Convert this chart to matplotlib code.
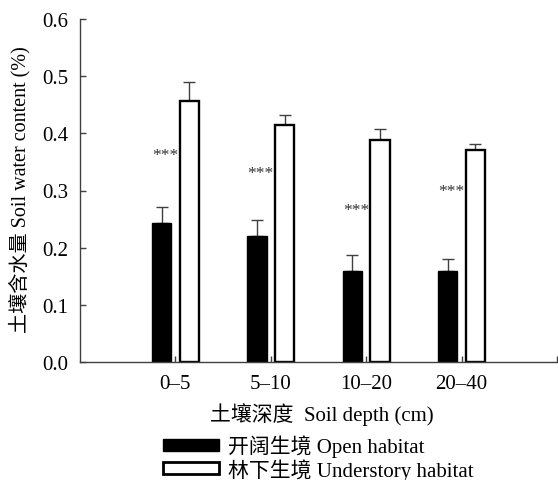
import matplotlib
matplotlib.use("Agg")
import matplotlib.pyplot as plt
import numpy as np
from matplotlib.patches import Patch

plt.rcParams['font.family'] = ['Liberation Serif', 'Noto Sans CJK SC']
plt.rcParams['axes.unicode_minus'] = False

depths = ['0\u20135', '5\u201310', '10\u201320', '20\u201340']
open_vals = [0.243, 0.220, 0.160, 0.160]
open_err = [0.029, 0.028, 0.028, 0.020]
under_vals = [0.456, 0.415, 0.388, 0.370]
under_err = [0.033, 0.017, 0.020, 0.012]
sig_labels = ['***', '***', '***', '***']
sig_y = [0.362, 0.330, 0.266, 0.299]

fig = plt.figure(figsize=(5.58, 4.81), dpi=100)
ax = fig.add_axes([80/558, 1-363/481, 477/558, 343/481])

x = np.arange(1, len(depths) + 1)
off = 0.145
w = 0.20
axc = '#404040'
ax.bar(x - off, open_vals, w, color='black', edgecolor='black', linewidth=1, zorder=2)
ax.bar(x + off, under_vals, w, color='white', edgecolor='black', linewidth=1.7, zorder=2)
ax.errorbar(x - off, open_vals, yerr=[np.zeros(4), open_err], fmt='none', ecolor=axc,
            elinewidth=1, capsize=4, capthick=1, zorder=1)
ax.errorbar(x + off, under_vals, yerr=[np.zeros(4), under_err], fmt='none', ecolor=axc,
            elinewidth=1, capsize=4, capthick=1, zorder=1)
for xi, lab, yy in zip(x, sig_labels, sig_y):
    ax.text(xi - 0.108, yy, lab, ha='center', va='center', fontsize=12.5, color='#333333')

ax.set_xlim(0, 5)
ax.set_ylim(0, 0.6)
yt = np.arange(0, 0.61, 0.1)
ax.set_yticks(yt)
ax.set_yticklabels([f'{v:.1f}' for v in yt], fontsize=15)
ax.set_xticks([1, 2, 3, 4, 5])
ax.set_xticklabels(depths + [''], fontsize=15)
ax.tick_params(axis='both', direction='in', length=4, color=axc, width=1)
ax.tick_params(axis='x', pad=9)
ax.tick_params(axis='y', pad=8.5)
for s in ['top', 'right']:
    ax.spines[s].set_visible(False)
for s in ['left', 'bottom']:
    ax.spines[s].set_color(axc)
    ax.spines[s].set_linewidth(1)

fig.text(20/558, 1-190/481, '土壤含水量 Soil water content (%)', rotation=90,
         ha='center', va='center', fontsize=14.5)
fig.text(322/558, 1-415/481, '土壤深度  Soil depth (cm)', ha='center', va='center', fontsize=15)

handles = [Patch(facecolor='black', edgecolor='black', linewidth=1),
           Patch(facecolor='white', edgecolor='black', linewidth=2)]
labels = ['开阔生境 Open habitat', '林下生境 Understory habitat']
fig.legend(handles, labels, loc='center left', bbox_to_anchor=(163/558, 1-458.5/481),
           frameon=False, fontsize=15, handlelength=2.7, handleheight=0.5,
           labelspacing=0.05, handletextpad=0.4, borderpad=0, borderaxespad=0)

fig.savefig('out.png', dpi=100)
